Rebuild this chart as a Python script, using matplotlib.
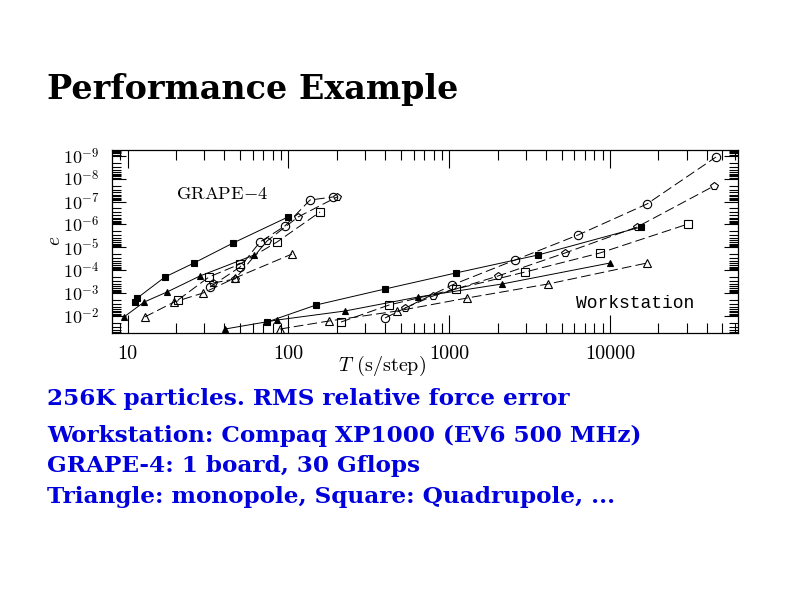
import matplotlib
matplotlib.use('Agg')
import matplotlib.pyplot as plt
from matplotlib.ticker import FixedLocator, FixedFormatter, LogLocator, NullFormatter

plt.rcParams['mathtext.fontset'] = 'cm'
plt.rcParams['lines.scale_dashes'] = False

# ---------------- data (T in s/step, e = RMS relative force error) ----------------
# GRAPE-4
g_fsq_T = [11.1, 11.5, 17.1, 25.9, 45.3, 99.5]
g_fsq_e = [2.45e-3, 1.64e-3, 1.98e-4, 4.85e-5, 6.5e-6, 4.75e-7]
g_ftr_T = [9.5, 12.7, 17.6, 28.2, 61.2]
g_ftr_e = [1.1e-2, 2.45e-3, 8.95e-4, 1.79e-4, 2.17e-5]
g_otr_T = [12.8, 19.5, 29.5, 46.6, 105.4]
g_otr_e = [1.1e-2, 2.45e-3, 9.9e-4, 2.19e-4, 1.96e-5]
g_osq_T = [20.6, 32.1, 50.1, 85.0, 157.3]
g_osq_e = [2.0e-3, 1.98e-4, 5.36e-5, 5.88e-6, 2.88e-7]
g_oci_T = [32.6, 50.1, 66.6, 95.3, 136.3, 189.5]
g_oci_e = [5.42e-4, 7.24e-5, 5.88e-6, 1.17e-6, 8.6e-8, 6.35e-8]
g_ope_T = [34.0, 46.6, 73.7, 114.8, 200.7]
g_ope_e = [3.62e-4, 2.42e-4, 5.31e-6, 4.75e-7, 6.35e-8]
# Workstation
w_ftr_T = [40.4, 85.0, 225, 640, 2130, 9990]
w_ftr_e = [3.7e-2, 1.5e-2, 6.05e-3, 1.48e-3, 4.0e-4, 4.85e-5]
w_fsq_T = [73.7, 148.6, 399, 1100, 3566, 15570]
w_fsq_e = [1.83e-2, 3.31e-3, 6.62e-4, 1.32e-4, 2.17e-5, 1.3e-6]
w_otr_T = [88.8, 179, 474, 1290, 4115, 16970]
w_otr_e = [3.7e-2, 1.65e-2, 6.05e-3, 1.64e-3, 4.0e-4, 4.85e-5]
w_osq_T = [212.5, 422.6, 1100, 2960, 8660, 30520]
w_osq_e = [1.83e-2, 3.31e-3, 6.62e-4, 1.2e-4, 1.77e-5, 9.6e-7]
w_oci_T = [399, 1041, 2566, 6321, 16970, 45570]
w_oci_e = [1.22e-2, 4.43e-4, 3.59e-5, 2.9e-6, 1.28e-7, 1.14e-9]
w_ope_T = [531, 793, 2011, 5248, 14710, 44290]
w_ope_e = [4.48e-3, 1.34e-3, 1.79e-4, 1.77e-5, 1.3e-6, 2.1e-8]

x_ticks = [10, 100, 1000, 10000]
x_ticklabels = ['10', '100', '1000', '10000']
y_ticks = [1e-9, 1e-8, 1e-7, 1e-6, 1e-5, 1e-4, 1e-3, 1e-2]
y_ticklabels = [r'$10^{-9}$', r'$10^{-8}$', r'$10^{-7}$', r'$10^{-6}$',
                r'$10^{-5}$', r'$10^{-4}$', r'$10^{-3}$', r'$10^{-2}$']

title = 'Performance Example'
lines_text = ['256K particles. RMS relative force error',
              'Workstation: Compaq XP1000 (EV6 500 MHz)',
              'GRAPE-4: 1 board, 30 Gflops',
              'Triangle: monopole, Square: Quadrupole, ...']

# ---------------- figure ----------------
fig = plt.figure(figsize=(8, 6), dpi=100)
ax = fig.add_axes([0.14, 0.445, 0.7825, 0.305])
ax.set_xscale('log')
ax.set_yscale('log')
ax.set_xlim(8.01, 62460)
ax.set_ylim(5.52e-2, 5.63e-10)

solid = '-'
dashed = (0, (7, 3))
lw = 0.7
styles = [
    (g_fsq_T, g_fsq_e, 's', 'k', solid, 4.5),
    (g_ftr_T, g_ftr_e, '^', 'k', solid, 5),
    (g_otr_T, g_otr_e, '^', 'none', dashed, 5.5),
    (g_osq_T, g_osq_e, 's', 'none', dashed, 5.5),
    (g_oci_T, g_oci_e, 'o', 'none', dashed, 6),
    (g_ope_T, g_ope_e, 'p', 'none', dashed, 6),
    (w_ftr_T, w_ftr_e, '^', 'k', solid, 5),
    (w_fsq_T, w_fsq_e, 's', 'k', solid, 4.5),
    (w_otr_T, w_otr_e, '^', 'none', dashed, 5.5),
    (w_osq_T, w_osq_e, 's', 'none', dashed, 5.5),
    (w_oci_T, w_oci_e, 'o', 'none', dashed, 6),
    (w_ope_T, w_ope_e, 'p', 'none', dashed, 6),
]
for T, e, m, fc, ls, ms in styles:
    ax.plot(T, e, color='k', lw=lw, linestyle=ls, marker=m, ms=ms,
            mfc=fc, mec='k', mew=0.8)

ax.xaxis.set_major_locator(FixedLocator(x_ticks))
ax.xaxis.set_major_formatter(FixedFormatter(x_ticklabels))
ax.xaxis.set_minor_locator(LogLocator(base=10, subs=range(2, 10), numticks=50))
ax.xaxis.set_minor_formatter(NullFormatter())
ax.yaxis.set_major_locator(FixedLocator(y_ticks))
ax.yaxis.set_major_formatter(FixedFormatter(y_ticklabels))
ax.yaxis.set_minor_locator(LogLocator(base=10, subs=range(2, 10), numticks=50))
ax.yaxis.set_minor_formatter(NullFormatter())

ax.tick_params(axis='x', which='major', direction='in', length=13, width=0.8,
               top=True, bottom=True, pad=9, labelsize=14.5)
ax.tick_params(axis='x', which='minor', direction='in', length=7, width=0.8,
               top=True, bottom=True)
ax.tick_params(axis='y', which='major', direction='in', length=10, width=0.8,
               left=True, right=True, pad=9, labelsize=13)
ax.tick_params(axis='y', which='minor', direction='in', length=6.5, width=0.8,
               left=True, right=True)
for lab in ax.get_xticklabels():
    lab.set_fontfamily('cmr10')
for sp in ax.spines.values():
    sp.set_linewidth(0.9)

ax.text(0.102, 0.76, r'GRAPE$-$4', transform=ax.transAxes, fontfamily='cmr10',
        fontsize=13.3, ha='left', va='center')
ax.text(0.742, 0.16, 'Workstation', transform=ax.transAxes,
        fontfamily='Liberation Mono', fontsize=13, ha='left', va='center')

fig.text(54 / 800, 1 - 241 / 600, r'$e$', fontsize=14, rotation=90,
         ha='center', va='center')
fig.text(382 / 800, 1 - 366 / 600, r'$T$ (s/step)', fontfamily='cmr10',
         fontsize=14.5, ha='center', va='center')

fig.text(47 / 800, 1 - 89 / 600, title, fontfamily='DejaVu Serif',
         fontweight='bold', fontsize=24, ha='left', va='center')
blue = '#0000dd'
ys = [399, 436, 466, 497]
for t, y in zip(lines_text, ys):
    fig.text(47 / 800, 1 - y / 600, t, fontfamily='DejaVu Serif',
             fontweight='bold', fontsize=16.7, color=blue, ha='left',
             va='center')

fig.savefig('out.png', dpi=100)
